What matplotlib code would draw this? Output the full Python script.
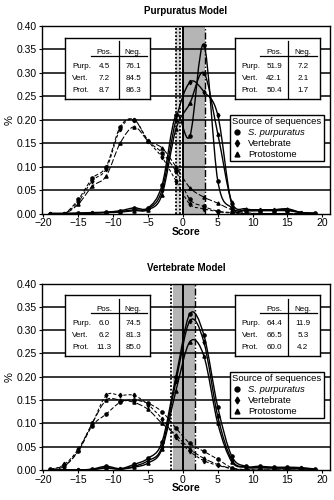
import matplotlib
matplotlib.use("Agg")
import matplotlib.pyplot as plt
import numpy as np
from matplotlib.path import Path
from matplotlib.patches import PathPatch
from matplotlib.lines import Line2D

plt.rcParams['font.family'] = ['Liberation Sans', 'DejaVu Sans']

# bin centres (score)
score = [-19, -17, -15, -13, -11, -9, -7, -5, -3, -1, 1, 3, 5, 7, 9, 11, 13, 15, 17, 19]

# Purpuratus model
top_pos_purp = [0, 0, 0.001, 0.002, 0.003, 0.006, 0.012, 0.012, 0.06, 0.21, 0.165, 0.36, 0.07, 0.012, 0.006, 0.006, 0.006, 0.006, 0.002, 0.001]
top_pos_vert = [0, 0, 0, 0.001, 0.002, 0.004, 0.008, 0.01, 0.05, 0.20, 0.28, 0.26, 0.21, 0.02, 0.008, 0.008, 0.008, 0.008, 0.002, 0]
top_pos_prot = [0, 0, 0, 0.001, 0.002, 0.003, 0.006, 0.008, 0.04, 0.18, 0.235, 0.30, 0.17, 0.025, 0.01, 0.008, 0.008, 0.01, 0.002, 0]
top_neg_purp = [0, 0, 0.03, 0.075, 0.10, 0.185, 0.20, 0.155, 0.13, 0.09, 0.03, 0.015, 0.005, 0.002, 0, 0, 0, 0, 0, 0]
top_neg_vert = [0, 0, 0.025, 0.07, 0.095, 0.18, 0.20, 0.155, 0.12, 0.07, 0.02, 0.01, 0.004, 0.001, 0, 0, 0, 0, 0, 0]
top_neg_prot = [0, 0, 0.02, 0.058, 0.08, 0.15, 0.185, 0.155, 0.14, 0.10, 0.055, 0.035, 0.022, 0.008, 0.002, 0, 0, 0, 0, 0]

# Vertebrate model
bot_pos_purp = [0, 0, 0, 0.002, 0.008, 0.003, 0.012, 0.025, 0.06, 0.20, 0.335, 0.29, 0.135, 0.03, 0.008, 0.008, 0.006, 0.006, 0.005, 0.002]
bot_pos_vert = [0, 0, 0, 0.001, 0.005, 0.002, 0.008, 0.02, 0.05, 0.19, 0.32, 0.275, 0.115, 0.022, 0.006, 0.005, 0.005, 0.004, 0.004, 0.001]
bot_pos_prot = [0, 0, 0, 0.001, 0.004, 0.002, 0.006, 0.015, 0.045, 0.17, 0.275, 0.245, 0.10, 0.018, 0.006, 0.005, 0.004, 0.004, 0.003, 0.001]
bot_neg_purp = [0.002, 0.01, 0.04, 0.095, 0.12, 0.145, 0.15, 0.143, 0.125, 0.09, 0.057, 0.04, 0.023, 0.005, 0.001, 0, 0, 0, 0, 0]
bot_neg_vert = [0, 0.012, 0.045, 0.10, 0.16, 0.16, 0.16, 0.14, 0.11, 0.07, 0.04, 0.02, 0.01, 0.003, 0, 0, 0, 0, 0, 0]
bot_neg_prot = [0, 0.008, 0.042, 0.10, 0.15, 0.15, 0.145, 0.13, 0.10, 0.075, 0.045, 0.025, 0.012, 0.003, 0, 0, 0, 0, 0, 0]

row_names = ["Purp.", "Vert.", "Prot."]
top_left_tab = [("4.5", "76.1"), ("7.2", "84.5"), ("8.7", "86.3")]
top_right_tab = [("51.9", "7.2"), ("42.1", "2.1"), ("50.4", "1.7")]
bot_left_tab = [("6.0", "74.5"), ("6.2", "81.3"), ("11.3", "85.0")]
bot_right_tab = [("64.4", "11.9"), ("66.5", "5.3"), ("60.0", "4.2")]

legend_labels = ["S. purpuratus", "Vertebrate", "Protostome"]
markers = ["o", "d", "^"]


def smooth_path(ax, x, y, ls, lw):
    # excel style smoothed line (catmull-rom as bezier)
    pts = np.column_stack([x, y]).astype(float)
    verts = [pts[0]]
    codes = [Path.MOVETO]
    n = len(pts)
    for i in range(n - 1):
        p0 = pts[max(i - 1, 0)]
        p1 = pts[i]
        p2 = pts[i + 1]
        p3 = pts[min(i + 2, n - 1)]
        verts += [p1 + (p2 - p0) / 6.0, p2 - (p3 - p1) / 6.0, p2]
        codes += [Path.CURVE4] * 3
    ax.add_patch(PathPatch(Path(verts, codes), fill=False, lw=lw,
                           ls=ls, edgecolor="black", zorder=3))


def draw_table(ax, bounds, rows):
    t = ax.inset_axes(bounds)
    t.set_xlim(0, 1)
    t.set_ylim(1, 0)
    t.set_xticks([])
    t.set_yticks([])
    for s in t.spines.values():
        s.set_linewidth(1.0)
    fs = 5.8
    t.text(0.46, 0.24, "Pos.", ha="center", va="center", fontsize=fs)
    t.text(0.80, 0.24, "Neg.", ha="center", va="center", fontsize=fs)
    t.plot([0.30, 0.96], [0.30, 0.30], color="black", lw=0.9)
    t.plot([0.63, 0.63], [0.06, 1.0], color="black", lw=0.9)
    for k, (name, (p, q)) in enumerate(zip(row_names, rows)):
        yy = 0.47 + k * 0.195
        t.text(0.08, yy, name, ha="left", va="center", fontsize=fs)
        t.text(0.46, yy, p, ha="center", va="center", fontsize=fs)
        t.text(0.80, yy, q, ha="center", va="center", fontsize=fs)


def panel(ax, title, pos, neg, tabs, shade):
    ax.set_xlim(-20.2, 21.1)
    ax.set_ylim(0, 0.4)
    for yv in np.arange(0.05, 0.4, 0.05):
        ax.axhline(yv, color="black", lw=1.1, zorder=1)

    light, dark, dot_lines, dash_x = shade
    if light is not None:
        ax.axvspan(light[0], light[1], color="#d6d6d6", lw=0, zorder=0)
    ax.axvspan(dark[0], dark[1], color="#b5b5b5", lw=0, zorder=0)
    for xv in dot_lines:
        ax.axvline(xv, color="black", ls=(0, (1, 1)), lw=1.3, zorder=2)
    ax.axvline(0, color="black", lw=1.4, zorder=2)
    ax.axvline(dash_x, color="black", ls=(0, (5, 1.5, 1, 1.5)), lw=1.0, zorder=2)

    for ser, m in zip(pos, markers):
        smooth_path(ax, score, ser, "-", 1.0)
        ax.plot(score, ser, ls="none", marker=m, ms=2.3, color="black", zorder=4)
    for ser, m, dsh in zip(neg, markers, [(0, (4, 2)), (0, (3, 2)), (0, (6, 2))]):
        smooth_path(ax, score, ser, dsh, 0.75)
        ax.plot(score, ser, ls="none", marker=m, ms=2.3, color="black", zorder=4)

    ax.set_xticks(range(-20, 21, 5))
    ax.set_yticks(np.arange(0, 0.41, 0.05))
    ax.set_yticklabels(["%.2f" % v for v in np.arange(0, 0.41, 0.05)])
    ax.tick_params(labelsize=7.5, length=2, width=0.8, pad=1.5)
    for s in ax.spines.values():
        s.set_linewidth(1.0)
    ax.set_title(title, fontsize=7, fontweight="bold", pad=9)
    ax.set_xlabel("Score", fontsize=7.5, fontweight="bold", labelpad=-1)
    ax.set_ylabel("%", fontsize=8, labelpad=2)

    draw_table(ax, [0.08, 0.61, 0.295, 0.328], tabs[0])
    draw_table(ax, [0.67, 0.61, 0.295, 0.328], tabs[1])

    handles = [Line2D([], [], ls="none", marker=m, ms=3.5, color="black") for m in markers]
    leg = ax.legend(handles, legend_labels, title="Source of sequences",
                    loc="upper left", bbox_to_anchor=(0.652, 0.525),
                    fontsize=6.8, title_fontsize=6.8, frameon=True, fancybox=False,
                    edgecolor="black", framealpha=1, borderpad=0.25,
                    labelspacing=0.2, handlelength=1.0, handletextpad=0.7,
                    borderaxespad=0)
    leg.get_frame().set_linewidth(1.0)
    leg.set_zorder(6)
    leg._legend_box.align = "left"
    leg.get_texts()[0].set_style("italic")


fig = plt.figure(figsize=(3.34, 5.0), dpi=100)
ax1 = fig.add_axes([0.126, 0.573, 0.862, 0.375])
ax2 = fig.add_axes([0.126, 0.06, 0.862, 0.373])

panel(ax1, "Purpuratus Model",
      [top_pos_purp, top_pos_vert, top_pos_prot],
      [top_neg_purp, top_neg_vert, top_neg_prot],
      [top_left_tab, top_right_tab],
      ((-1.05, -0.4), (0, 3.1), [-1.05, -0.4], 3.1))
panel(ax2, "Vertebrate Model",
      [bot_pos_purp, bot_pos_vert, bot_pos_prot],
      [bot_neg_purp, bot_neg_vert, bot_neg_prot],
      [bot_left_tab, bot_right_tab],
      (None, (-1.35, 1.75), [-1.7], 1.75))

fig.savefig("out.png", dpi=100)
